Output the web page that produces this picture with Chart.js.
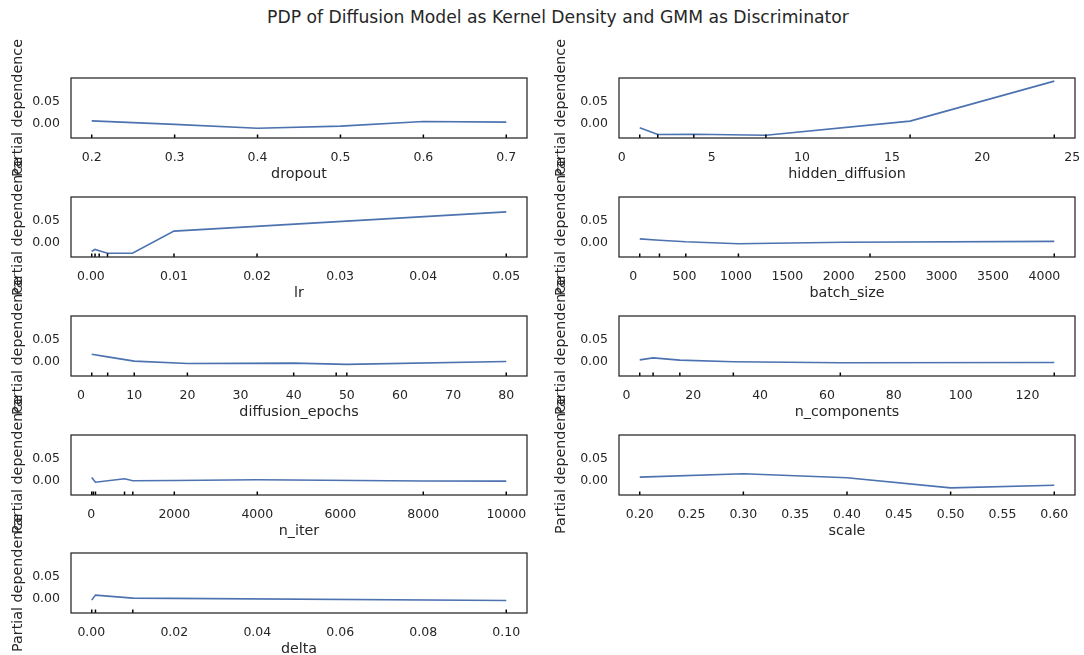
<!DOCTYPE html>
<html>
<head>
<meta charset="utf-8">
<script src="https://cdn.jsdelivr.net/npm/chart.js@4.4.0/dist/chart.umd.min.js"></script>
<style>
  body { margin: 0; background: #fff; width: 1084px; height: 655px; position: relative; overflow: hidden; font-family: "DejaVu Sans", sans-serif; }
  #titulo { position: absolute; top: 7px; left: 16px; width: 1084px; text-align: center; font-size: 17.2px; line-height: 20px; color: #262626; }
  canvas { position: absolute; }
</style>
</head>
<body>
<div id="titulo">PDP of Diffusion Model as Kernel Density and GMM as Discriminator</div>
<div id="graficos"></div>
<script>
// valores
const dropoutX = [0.2, 0.3, 0.4, 0.5, 0.6, 0.7];
const dropoutY = [0.006, -0.002, -0.011, -0.006, 0.0046, 0.003];
const dropoutRug = [0.2, 0.3, 0.4, 0.5, 0.6, 0.7];
const dropoutTicks = ["0.2", "0.3", "0.4", "0.5", "0.6", "0.7"];

const hiddenX = [1, 2, 4, 8, 16, 24];
const hiddenY = [-0.010, -0.0254, -0.0246, -0.027, 0.0054, 0.097];
const hiddenRug = [1, 2, 4, 8, 16, 24];
const hiddenTicks = ["0", "5", "10", "15", "20", "25"];

const lrX = [0.0001, 0.0005, 0.001, 0.002, 0.005, 0.01, 0.05];
const lrY = [-0.020, -0.016, -0.019, -0.0246, -0.0246, 0.026, 0.070];
const lrRug = [0.0001, 0.0005, 0.001, 0.002, 0.01, 0.02, 0.05];
const lrTicks = ["0.00", "0.01", "0.02", "0.03", "0.04", "0.05"];

const batchX = [64, 256, 512, 1024, 2048, 4096];
const batchY = [0.0083, 0.0052, 0.0015, -0.003, 0.0005, 0.0025];
const batchRug = [64, 256, 512, 1024, 2304, 4096];
const batchTicks = ["0", "500", "1000", "1500", "2000", "2500", "3000", "3500", "4000"];

const epochsX = [2, 5, 10, 20, 40, 50, 80];
const epochsY = [0.0164, 0.0105, 0.0007, -0.0045, -0.0037, -0.0067, 0.0];
const epochsRug = [2, 5, 10, 20, 40, 48, 50, 80];
const epochsTicks = ["0", "10", "20", "30", "40", "50", "60", "70", "80"];

const compX = [4, 8, 16, 32, 64, 128];
const compY = [0.0037, 0.0082, 0.003, -0.0007, -0.003, -0.0022];
const compRug = [4, 8, 16, 32, 64, 128];
const compTicks = ["0", "20", "40", "60", "80", "100", "120"];

const iterX = [10, 100, 800, 1000, 2000, 4000, 8000, 10000];
const iterY = [0.007, -0.004, 0.0038, -0.0008, 0.0, 0.0015, -0.0012, -0.0015];
const iterRug = [10, 50, 100, 800, 1000, 2000, 4000, 8000, 10000];
const iterTicks = ["0", "2000", "4000", "6000", "8000", "10000"];

const scaleX = [0.2, 0.3, 0.4, 0.5, 0.6];
const scaleY = [0.0077, 0.0154, 0.0062, -0.0169, -0.0108];
const scaleRug = [0.2, 0.3, 0.4, 0.5, 0.6];
const scaleTicks = ["0.20", "0.25", "0.30", "0.35", "0.40", "0.45", "0.50", "0.55", "0.60"];

const deltaX = [0.0001, 0.001, 0.01, 0.1];
const deltaY = [-0.0038, 0.0077, 0.0008, -0.0046];
const deltaRug = [0.0001, 0.001, 0.01, 0.1];
const deltaTicks = ["0.00", "0.02", "0.04", "0.06", "0.08", "0.10"];

const yTicks = ["0.00", "0.05"];
const yMin = -0.0333;
const yMax = 0.1042;

const paineis = [
  { nome: "dropout", x: dropoutX, y: dropoutY, rug: dropoutRug, ticks: dropoutTicks },
  { nome: "hidden_diffusion", x: hiddenX, y: hiddenY, rug: hiddenRug, ticks: hiddenTicks },
  { nome: "lr", x: lrX, y: lrY, rug: lrRug, ticks: lrTicks },
  { nome: "batch_size", x: batchX, y: batchY, rug: batchRug, ticks: batchTicks },
  { nome: "diffusion_epochs", x: epochsX, y: epochsY, rug: epochsRug, ticks: epochsTicks },
  { nome: "n_components", x: compX, y: compY, rug: compRug, ticks: compTicks },
  { nome: "n_iter", x: iterX, y: iterY, rug: iterRug, ticks: iterTicks },
  { nome: "scale", x: scaleX, y: scaleY, rug: scaleRug, ticks: scaleTicks },
  { nome: "delta", x: deltaX, y: deltaY, rug: deltaRug, ticks: deltaTicks },
];

// layout
const topos = [78, 197, 316, 435, 553];
const colunas = [
  { left: 0, width: 540, yWidth: 71, padRight: 13, titlePad: 9.4 },
  { left: 540, width: 544, yWidth: 79, padRight: 9, titlePad: 12.4 },
];
const COR = "#262626";

const moldura = {
  id: "moldura",
  afterDraw(chart) {
    const { ctx, chartArea } = chart;
    ctx.save();
    ctx.strokeStyle = COR;
    ctx.lineWidth = 1.25;
    ctx.strokeRect(chartArea.left, chartArea.top, chartArea.right - chartArea.left, chartArea.bottom - chartArea.top);
    ctx.restore();
  }
};

const rug = {
  id: "rug",
  afterDatasetsDraw(chart, args, opts) {
    const { ctx, chartArea } = chart;
    const xs = chart.scales.x;
    ctx.save();
    ctx.strokeStyle = "#000";
    ctx.lineWidth = 1.5;
    opts.valores.forEach(v => {
      const px = xs.getPixelForValue(v);
      ctx.beginPath();
      ctx.moveTo(px, chartArea.bottom);
      ctx.lineTo(px, chartArea.bottom - 3.5);
      ctx.stroke();
    });
    ctx.restore();
  }
};

const container = document.getElementById("graficos");

paineis.forEach((p, i) => {
  const col = colunas[i % 2];
  const top = topos[Math.floor(i / 2)];

  const canvas = document.createElement("canvas");
  canvas.width = col.width;
  canvas.height = 150;
  canvas.style.left = col.left + "px";
  canvas.style.top = (top - 45) + "px";
  canvas.style.width = col.width + "px";
  canvas.style.height = "150px";
  container.appendChild(canvas);

  const xmin = Math.min(...p.x), xmax = Math.max(...p.x);
  const margem = (xmax - xmin) * 0.05;

  new Chart(canvas, {
    type: "line",
    data: {
      datasets: [{
        data: p.x.map((v, k) => ({ x: v, y: p.y[k] })),
        borderColor: "#4C72B0",
        borderWidth: 1.6,
        pointRadius: 0,
        tension: 0,
      }],
    },
    options: {
      responsive: false,
      animation: false,
      devicePixelRatio: 1,
      layout: { padding: { top: 45, left: 0, right: col.padRight, bottom: 0 } },
      plugins: {
        legend: { display: false },
        tooltip: { enabled: false },
        rug: { valores: p.rug },
      },
      scales: {
        x: {
          type: "linear",
          min: xmin - margem,
          max: xmax + margem,
          grid: { display: false, drawTicks: false },
          border: { display: false },
          afterBuildTicks: s => { s.ticks = p.ticks.map(t => ({ value: Number(t) })); },
          afterFit: s => { s.height = 45; s.paddingLeft = 0; s.paddingRight = 0; s.paddingTop = 0; s.paddingBottom = 0; },
          ticks: {
            autoSkip: false,
            maxRotation: 0,
            padding: 12,
            color: COR,
            font: { family: "DejaVu Sans", size: 12.5 },
            callback: (v, k) => p.ticks[k],
          },
          title: {
            display: true,
            text: p.nome,
            color: COR,
            font: { family: "DejaVu Sans", size: 14.3 },
            padding: { top: 0, bottom: 0 },
          },
        },
        y: {
          min: yMin,
          max: yMax,
          grid: { display: false, drawTicks: false },
          border: { display: false },
          afterBuildTicks: s => { s.ticks = yTicks.map(t => ({ value: Number(t) })); },
          afterFit: s => { s.width = col.yWidth; s.paddingTop = 0; s.paddingBottom = 0; s.paddingLeft = 0; s.paddingRight = 0; },
          ticks: {
            padding: 11,
            color: COR,
            font: { family: "DejaVu Sans", size: 12.5 },
            callback: (v, k) => yTicks[k],
          },
          title: {
            display: true,
            text: "Partial dependence",
            color: COR,
            font: { family: "DejaVu Sans", size: 14.3 },
            padding: { top: col.titlePad, bottom: 0 },
          },
        },
      },
    },
    plugins: [moldura, rug],
  });
});
</script>
</body>
</html>
